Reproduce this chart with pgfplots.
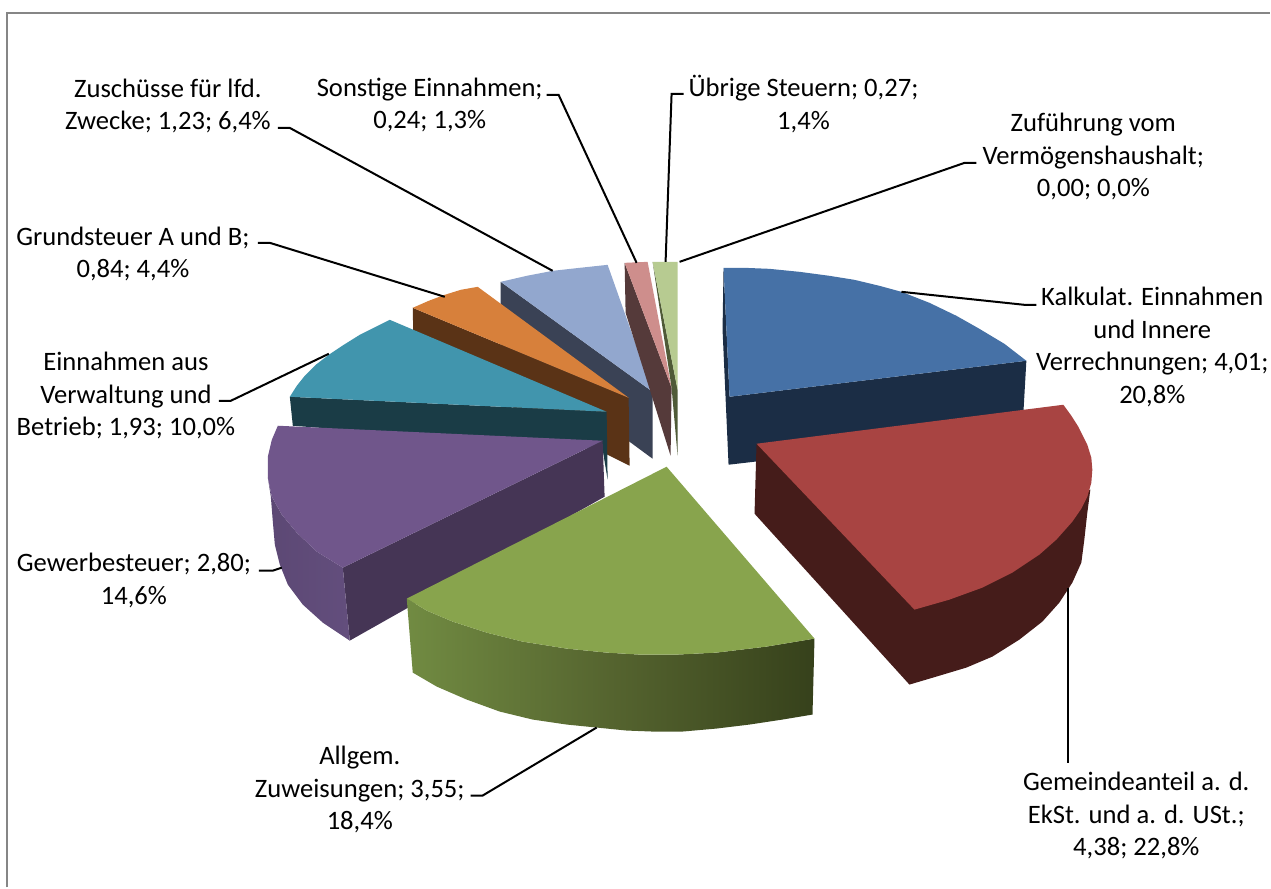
\documentclass[border=0pt]{standalone}
\usepackage{pgfplots}
\pgfplotsset{compat=1.18}
\usepackage{fontspec}
\setmainfont{Carlito}
\definecolor{bluetop}{HTML}{4671A6}
\definecolor{blueside}{HTML}{1B2D45}
\definecolor{redtop}{HTML}{A84442}
\definecolor{redside}{HTML}{451C1A}
\definecolor{greentop}{HTML}{88A44D}
\definecolor{greenl}{HTML}{718B42}
\definecolor{greenm}{HTML}{55642F}
\definecolor{greenr}{HTML}{36411B}
\definecolor{purtop}{HTML}{70568B}
\definecolor{purwall}{HTML}{453555}
\definecolor{purl}{HTML}{5C4874}
\definecolor{purr}{HTML}{634E7D}
\definecolor{tealtop}{HTML}{4195AD}
\definecolor{tealside}{HTML}{1A3C46}
\definecolor{orgtop}{HTML}{D7803B}
\definecolor{orgside}{HTML}{5A3316}
\definecolor{pertop}{HTML}{92A7CE}
\definecolor{perside}{HTML}{3A4255}
\definecolor{pinktop}{HTML}{CE8E8C}
\definecolor{pinkside}{HTML}{553A3A}
\definecolor{ltgtop}{HTML}{B7CB91}
\definecolor{ltgside}{HTML}{4F5A37}
\tikzset{lab/.style={font=\fontsize{13.3}{16.25}\selectfont, align=center, inner sep=0pt, text=black}}
\begin{document}
\begin{tikzpicture}
\begin{axis}[
  scale only axis, width=635.5pt, height=444pt,
  xmin=0, xmax=1271, ymin=0, ymax=888, y dir=reverse,
  axis lines=none, clip=false,
  every axis plot/.append style={no markers, forget plot},
]
\path (axis cs:0,0) rectangle (axis cs:1271,888);
% frame
\addplot[draw={rgb,255:red,134;green,134;blue,134}, line width=0.8pt] coordinates {(7,888)(7,13)(1271,13)};
% periwinkle
\addplot[fill=perside, draw=none] coordinates {(501,282)(653,392)(653,459)(501,347)} --cycle;
\addplot[fill=pertop, draw=none] coordinates {(501,282)(527,276)(553,271)(580,268)(608,265)(653,392)} --cycle;
% pink
\addplot[fill=pinkside, draw=none] coordinates {(625,263)(626,313)(671,456)(672,388)} --cycle;
\addplot[fill=pinktop, draw=none] coordinates {(625,263)(648,262)(672,388)} --cycle;
% light green
\addplot[fill=ltgside, draw=none] coordinates {(653,262)(672,388)(678,456)(678,390)} --cycle;
\addplot[fill=ltgtop, draw=none] coordinates {(653,262)(678,262)(678,390)} --cycle;
% orange
\addplot[fill=orgside, draw=none] coordinates {(413,308)(629,398)(630,466)(414,358)} --cycle;
\addplot[fill=orgtop, draw=none] coordinates {(413,308)(429,301)(445,295)(461,290)(478,287)(629,398)} --cycle;
% teal
\addplot[fill=tealside, draw=none] coordinates {(290,397)(293,426)(603,450)(608,480)(607,412)} --cycle;
\addplot[fill=tealtop, draw=none] coordinates {(290,397)(297,386)(305,376)(316,365)(329,355)(344,345)(360,335)(390,320)(607,412)} --cycle;
% purple
\addplot[fill=purwall, draw=none] coordinates {(343,568)(603,441)(605,497)(350,641)} --cycle;
\addplot[left color=purl, right color=purr, draw=none] coordinates {(268,478)(272,497)(282,515)(297,533)(317,552)(343,568)(350,641)(323,623)(303,605)(288,585)(280,565)(275,545)(273,522)(271,497)} --cycle;
\addplot[fill=purtop, draw=none] coordinates {(278,426)(272,440)(268,457)(268,478)(272,497)(282,515)(297,533)(317,552)(343,568)(603,441)} --cycle;
% green
\addplot[left color=greenl, right color=greenr, middle color=greenm, draw=none] coordinates {(407,599)(427,611)(453,622)(487,633)(523,642)(567,649)(607,653)(640,655)(677,655)(717,653)(767,647)(815,639)(813,715)(783,720)(750,725)(717,729)(683,732)(653,732)(627,731)(597,728)(567,725)(533,720)(500,712)(467,700)(437,687)(413,673)} --cycle;
\addplot[fill=greentop, draw=none] coordinates {(667,467)(407,599)(427,611)(453,622)(487,633)(523,642)(567,649)(607,653)(640,655)(677,655)(717,653)(767,647)(815,639)} --cycle;
% blue
\addplot[fill=blueside, draw=none] coordinates {(724,268)(723,330)(729,465)(1023,431)(1027,361)(730,397)} --cycle;
\addplot[fill=bluetop, draw=none] coordinates {(724,268)(745,268)(770,269)(800,272)(830,276)(855,280)(880,286)(902,292)(930,303)(957,316)(980,329)(1005,344)(1027,361)(730,397)} --cycle;
% red
\addplot[fill=redside, draw=none] coordinates {(757,444)(755,514)(910,685)(937,677)(967,668)(993,657)(1020,640)(1043,622)(1060,603)(1073,583)(1082,563)(1085,540)(1088,513)(1091,490)(1000,500)} --cycle;
\addplot[fill=redtop, draw=none] coordinates {(757,444)(1064,405)(1072,416)(1079,427)(1088,445)(1092,458)(1093,470)(1092,483)(1088,497)(1082,509)(1073,522)(1057,540)(1040,555)(1013,573)(983,588)(950,600)(915,610)} --cycle;
% leader lines
\addplot[black, line width=1pt] coordinates {(278,128)(290,128)(553,271)};
\addplot[black, line width=1pt] coordinates {(547,95)(559,95)(637,263)};
\addplot[black, line width=1pt] coordinates {(258,243)(270,243)(445,297)};
\addplot[black, line width=1pt] coordinates {(219,401)(231,401)(329,354)};
\addplot[black, line width=1pt] coordinates {(259,571)(273,571)(282,568)};
\addplot[black, line width=1pt] coordinates {(471,796)(483,796)(597,728)};
\addplot[black, line width=1pt] coordinates {(1069,588)(1069,763)};
\addplot[black, line width=1pt] coordinates {(684,94)(672,94)(666,262)};
\addplot[black, line width=1pt] coordinates {(977,163)(965,163)(680,262)};
\addplot[black, line width=1pt] coordinates {(1037,305)(1025,305)(902,292)};
% labels
\node[lab] at (axis cs:168,106) {Zuschüsse für lfd.\\Zwecke; 1,23; 6,4\%};
\node[lab] at (axis cs:430,105) {Sonstige Einnahmen;\\0,24; 1,3\%};
\node[lab] at (axis cs:133,254) {Grundsteuer A und B;\\0,84; 4,4\%};
\node[lab] at (axis cs:126,396) {Einnahmen aus\\Verwaltung und\\Betrieb; 1,93; 10,0\%};
\node[lab] at (axis cs:134,581) {Gewerbesteuer; 2,80;\\14,6\%};
\node[lab] at (axis cs:360,790) {Allgem.\\Zuweisungen; 3,55;\\18,4\%};
\node[lab] at (axis cs:1137,816) {Gemeindeanteil a. d.\\EkSt. und a. d. USt.;\\4,38; 22,8\%};
\node[lab] at (axis cs:804,104) {Übrige Steuern; 0,27;\\1,4\%};
\node[lab] at (axis cs:1094,157) {Zuführung vom\\Vermögenshaushalt;\\0,00; 0,0\%};
\node[lab] at (axis cs:1153,347) {Kalkulat. Einnahmen\\und Innere\\Verrechnungen; 4,01;\\20,8\%};
\end{axis}
\end{tikzpicture}
\end{document}
